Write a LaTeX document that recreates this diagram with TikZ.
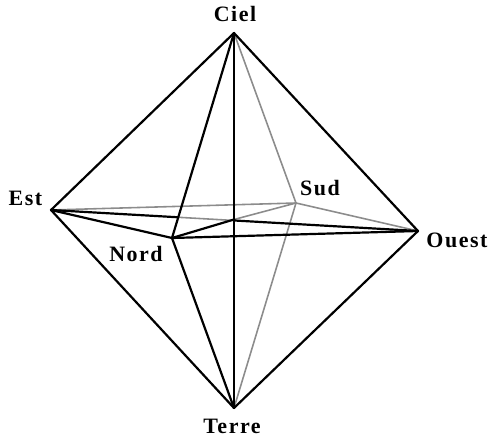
\documentclass[tikz,border=0pt]{standalone}
\usepackage{fontspec}
\setmainfont{Liberation Serif}
\newfontfamily\labelfont[LetterSpace=7]{Liberation Serif Bold}
\usetikzlibrary{calc}
\tikzset{
    front/.style={black, line width=1.25pt, line cap=round},
    back/.style={black!45, line width=0.9pt, line cap=round},
    pointname/.style={inner sep=0pt, font=\labelfont\fontsize{12.5}{13}\selectfont},
}
\begin{document}
\begin{tikzpicture}[x=0.02cm, y=-0.02cm]
    \useasboundingbox (0,0) rectangle (488,437);

    % The six vertices
    \coordinate (ciel) at (234,33);
    \coordinate (terre) at (234,408);
    \coordinate (est) at (51,210);
    \coordinate (ouest) at (418,231);
    \coordinate (nord) at (172,238);
    \coordinate (sud) at (296,203);

    % Breaks where the axes turn from black to grey
    \coordinate (centre) at (234,219.5);
    \coordinate (estbreak) at ($(est)!0.345!(ouest)$);
    \coordinate (ouestbreak) at ($(est)!0.5!(ouest)$);

    % Hidden edges
    \foreach \a in {ciel, terre, est, ouest}
        \draw[back] (sud) -- (\a);
    \draw[back] (centre) -- (sud);
    \draw[back] (estbreak) -- (ouestbreak);

    % Visible edges
    \foreach \a in {ciel, terre, est, ouest}
        \draw[front] (nord) -- (\a);
    \foreach \a in {est, ouest}
    {
        \draw[front] (ciel) -- (\a);
        \draw[front] (terre) -- (\a);
    }
    \draw[front] (ciel) -- (terre);
    \draw[front] (nord) -- (centre);
    \draw[front] (est) -- (estbreak);
    \draw[front] (ouestbreak) -- (ouest);

    % Names
    \node[pointname] (cielname) at (235,14) {Ciel};
    \node[pointname] (terrename) at (232,426.5) {Terre};
    \node[pointname] (estname) at (25.5,198) {Est};
    \node[pointname] (ouestname) at (457,240) {Ouest};
    \node[pointname] (nordname) at (136,254) {Nord};
    \node[pointname] (sudname) at (320,188) {Sud};
\end{tikzpicture}
\end{document}
